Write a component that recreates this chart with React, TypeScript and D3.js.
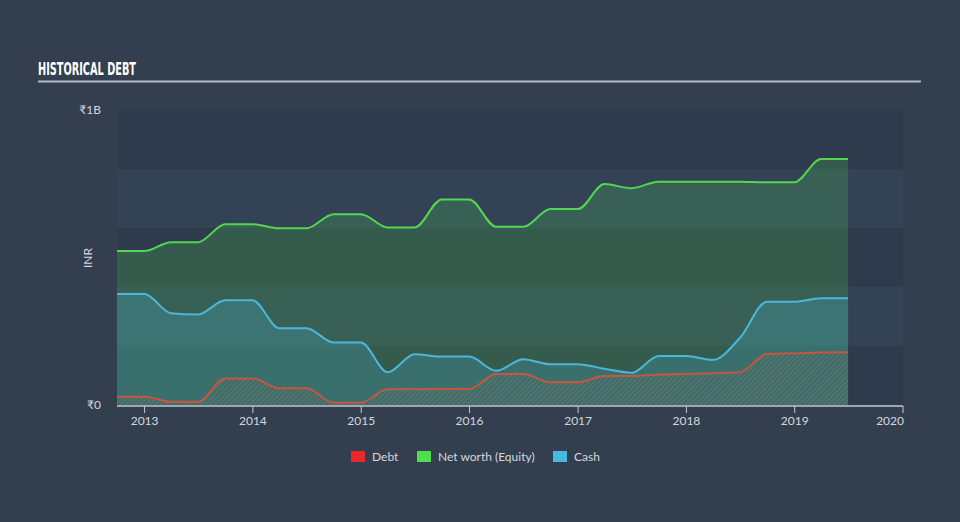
import React from "react";
import * as d3 from "d3";

const dates = [
  "2012-09-30", "2012-12-31", "2013-03-31", "2013-06-30", "2013-09-30", "2013-12-31",
  "2014-03-31", "2014-06-30", "2014-09-30", "2014-12-31", "2015-03-31", "2015-06-30",
  "2015-09-30", "2015-12-31", "2016-03-31", "2016-06-30", "2016-09-30", "2016-12-31",
  "2017-03-31", "2017-06-30", "2017-09-30", "2017-12-31", "2018-03-31", "2018-06-30",
  "2018-09-30", "2018-12-31", "2019-03-31", "2019-06-30",
];
// values in millions of INR
const netWorth = [522, 522, 552, 552, 613, 613, 599, 599, 647, 647, 602, 602, 697, 697, 604, 604, 664, 664, 749, 735, 757, 757, 757, 757, 755, 755, 834, 834];
const cash = [376, 376, 311, 307, 355, 355, 260, 260, 212, 212, 111, 172, 164, 164, 116, 155, 138, 138, 123, 109, 166, 166, 153, 227, 350, 350, 362, 362];
const debt = [28, 28, 11, 11, 90, 90, 57, 57, 8, 8, 53, 53, 54, 54, 105, 105, 77, 77, 98, 98, 103, 105, 108, 111, 173, 175, 178, 179];

const xTickYears = [2013, 2014, 2015, 2016, 2017, 2018, 2019, 2020];
const yTicks = [0, 1000];
const yTickLabels = ["₹0", "₹1B"];
const bandEdges = [0, 200, 400, 600, 800, 1000];

const legendItems = [
  { label: "Debt", color: "#e8282b" },
  { label: "Net worth (Equity)", color: "#4ce04c" },
  { label: "Cash", color: "#47b8e0" },
];

const W = 960;
const H = 522;
const FONT = "Lato, 'Open Sans', sans-serif";

export default function App() {
  const parse = d3.timeParse("%Y-%m-%d");
  const ds = dates.map((d) => parse(d) as Date);
  const x = d3
    .scaleTime()
    .domain([new Date(2012, 8, 30), new Date(2020, 0, 1)])
    .range([117, 903]);
  const y = d3.scaleLinear().domain([0, 1000]).range([405, 110]);

  const mk = (vals: number[]) => vals.map((v, i) => ({ d: ds[i], v }));
  const nw = mk(netWorth);
  const ca = mk(cash);
  const de = mk(debt);

  const area = d3
    .area<{ d: Date; v: number }>()
    .x((p) => x(p.d))
    .y0(y(0))
    .y1((p) => y(p.v))
    .curve(d3.curveMonotoneX);
  const line = d3
    .line<{ d: Date; v: number }>()
    .x((p) => x(p.d))
    .y((p) => y(p.v))
    .curve(d3.curveMonotoneX);

  const [x0, x1] = x.range();
  const legendX = [351, 417, 553];

  return (
    <svg
      width={W}
      height={H}
      style={{ position: "absolute", left: 0, top: 0, display: "block" }}
    >
      <defs>
        <pattern
          id="hatch"
          patternUnits="userSpaceOnUse"
          width={3.5}
          height={3.5}
          patternTransform="rotate(45)"
        >
          <line x1={0} y1={0} x2={0} y2={3.5} stroke="#b8705c" strokeWidth={1.4} strokeOpacity={0.6} />
        </pattern>
      </defs>
      <rect x={0} y={0} width={W} height={H} fill="#333f4f" />

      {/* title */}
      <text
        x={38}
        y={75}
        fill="#ffffff"
        fontFamily="'Liberation Sans Narrow', 'DejaVu Sans Condensed', sans-serif"
        fontWeight="bold"
        fontSize={18}
        textLength={98}
        lengthAdjust="spacingAndGlyphs"
      >
        HISTORICAL DEBT
      </text>
      <line x1={38} x2={921} y1={81.5} y2={81.5} stroke="#b4bcc6" strokeWidth={2} />

      {/* bands */}
      {bandEdges.slice(0, -1).map((lo, i) => {
        const hi = bandEdges[i + 1];
        const dark = i % 2 === 0;
        return (
          <rect
            key={lo}
            x={x0}
            width={x1 - x0}
            y={y(hi)}
            height={y(lo) - y(hi)}
            fill={dark ? "#2e3b4c" : "#334255"}
          />
        );
      })}

      {/* areas */}
      <path d={area(nw) || ""} fill="rgb(80,220,80)" fillOpacity={0.2} />
      <path d={area(ca) || ""} fill="rgb(75,180,220)" fillOpacity={0.23} />
      <path d={area(de) || ""} fill="url(#hatch)" />

      {/* lines */}
      <path d={line(nw) || ""} fill="none" stroke="#52d752" strokeWidth={2} />
      <path d={line(ca) || ""} fill="none" stroke="#4ab8db" strokeWidth={2} />
      <path d={line(de) || ""} fill="none" stroke="#c9553f" strokeWidth={2} />

      {/* x axis */}
      <line x1={x0} x2={x1} y1={406} y2={406} stroke="#c3cad3" strokeWidth={1.5} />
      {xTickYears.map((yr, i) => {
        const tx = x(new Date(yr, 0, 1));
        const last = i === xTickYears.length - 1;
        return (
          <g key={yr}>
            <line x1={tx} x2={tx} y1={406} y2={413} stroke="#c3cad3" strokeWidth={1} />
            <text
              x={last ? tx + 1 : tx}
              y={425}
              textAnchor={last ? "end" : "middle"}
              fill="#d3d8de"
              fontFamily={FONT}
              fontSize={12}
            >
              {yr}
            </text>
          </g>
        );
      })}

      {/* y axis labels */}
      {yTicks.map((t, i) => (
        <text
          key={t}
          x={101}
          y={y(t) + 4}
          textAnchor="end"
          fill="#d3d8de"
          fontFamily={FONT}
          fontSize={12}
        >
          {yTickLabels[i]}
        </text>
      ))}
      <text
        transform="translate(92,258) rotate(-90)"
        textAnchor="middle"
        fill="#d3d8de"
        fontFamily={FONT}
        fontSize={12}
      >
        INR
      </text>

      {/* legend */}
      {legendItems.map((it, i) => (
        <g key={it.label}>
          <rect x={legendX[i]} y={451} width={14} height={11} fill={it.color} />
          <text
            x={legendX[i] + 21}
            y={461}
            fill="#d3d8de"
            fontFamily={FONT}
            fontSize={12}
          >
            {it.label}
          </text>
        </g>
      ))}
    </svg>
  );
}
